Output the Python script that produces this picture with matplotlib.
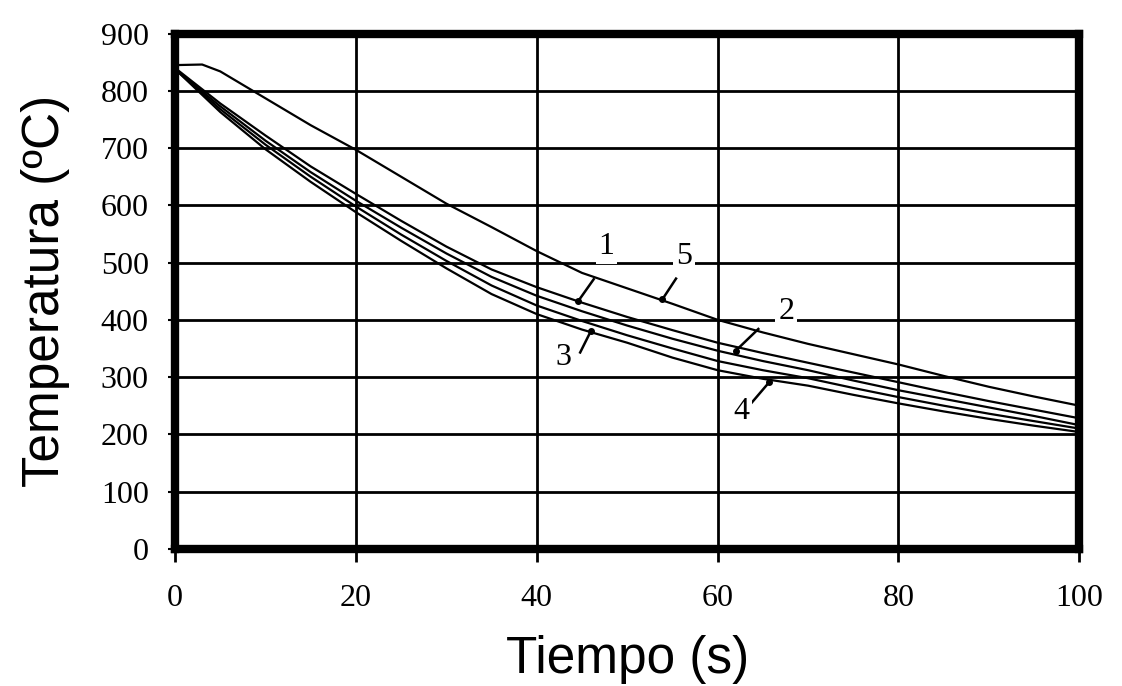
import matplotlib.pyplot as plt

# datos (tiempo en s, temperatura en ºC)
tiempo = [0, 5, 10, 15, 20, 25, 30, 35, 40, 45, 50, 55, 60, 65, 70, 75, 80, 85, 90, 95, 100]

curva_1 = [840, 778, 722, 668, 620, 573, 528, 488, 457, 430, 405, 382, 360, 342, 325, 308, 291, 274, 258, 243, 228]
curva_2 = [838, 773, 713, 658, 608, 561, 516, 475, 442, 415, 390, 367, 346, 328, 312, 294, 277, 262, 247, 232, 216]
curva_3 = [838, 763, 698, 641, 588, 538, 490, 445, 410, 383, 360, 334, 312, 297, 285, 269, 254, 240, 227, 215, 204]
curva_4 = [838, 768, 706, 650, 598, 549, 503, 460, 425, 398, 373, 350, 328, 312, 298, 281, 265, 250, 236, 223, 210]

tiempo_5 = [0, 3, 5, 10, 15, 20, 25, 30, 35, 40, 45, 50, 55, 60, 65, 70, 75, 80, 85, 90, 95, 100]
curva_5 = [845, 846, 834, 787, 740, 697, 650, 603, 562, 520, 482, 455, 428, 400, 378, 358, 340, 322, 302, 283, 266, 250]

# etiquetas: texto, posicion del numero, inicio y fin de la flecha
etiquetas = ["1", "5", "2", "3", "4"]
pos_texto = [(47.7, 528), (56.3, 511), (67.6, 415), (43.0, 335), (62.6, 239)]
flecha_ini = [(46.3, 471), (55.4, 472), (64.5, 384), (44.8, 343), (63.7, 254)]
flecha_fin = [(44.6, 433), (53.9, 436), (62.0, 346), (46.0, 381), (65.7, 291)]

x_ticks = [0, 20, 40, 60, 80, 100]
y_ticks = [0, 100, 200, 300, 400, 500, 600, 700, 800, 900]

fig = plt.figure(figsize=(11.22, 6.86), dpi=100)
ax = fig.add_axes([0.156, 0.2, 0.806, 0.751])

for y in y_ticks[1:-1]:
    ax.axhline(y, color="black", lw=2.0, zorder=1)
for x in x_ticks[1:-1]:
    ax.axvline(x, color="black", lw=2.0, zorder=1)

for serie in [curva_1, curva_2, curva_3, curva_4]:
    ax.plot(tiempo, serie, color="black", lw=1.6, zorder=3)
ax.plot(tiempo_5, curva_5, color="black", lw=1.6, zorder=3)

serif = "Liberation Serif"
for txt, p, a, b in zip(etiquetas, pos_texto, flecha_ini, flecha_fin):
    ax.text(p[0], p[1], txt, fontsize=23, family=serif, ha="center", va="center",
            zorder=5, bbox=dict(facecolor="white", edgecolor="none", pad=2))
    ax.plot([a[0], b[0]], [a[1], b[1]], color="black", lw=1.8, zorder=4)
    ax.plot(b[0], b[1], "o", color="black", ms=4, zorder=4)

ax.set_xlim(0, 100)
ax.set_ylim(0, 900)
ax.set_xticks(x_ticks)
ax.set_yticks(y_ticks)

for s in ax.spines.values():
    s.set_linewidth(6)
    s.set_zorder(6)

ax.tick_params(axis="x", direction="out", length=9, width=2, pad=16, labelsize=23)
ax.tick_params(axis="y", direction="out", length=5, width=1.5, pad=14, labelsize=23)
for lab in ax.get_xticklabels() + ax.get_yticklabels():
    lab.set_family(serif)

ax.set_xlabel("Tiempo (s)", fontsize=37, family="Liberation Sans", labelpad=16)
ax.set_ylabel("Temperatura (ºC)", fontsize=37, family="Liberation Sans", labelpad=22)

fig.savefig("out.png", dpi=100, facecolor="white")
